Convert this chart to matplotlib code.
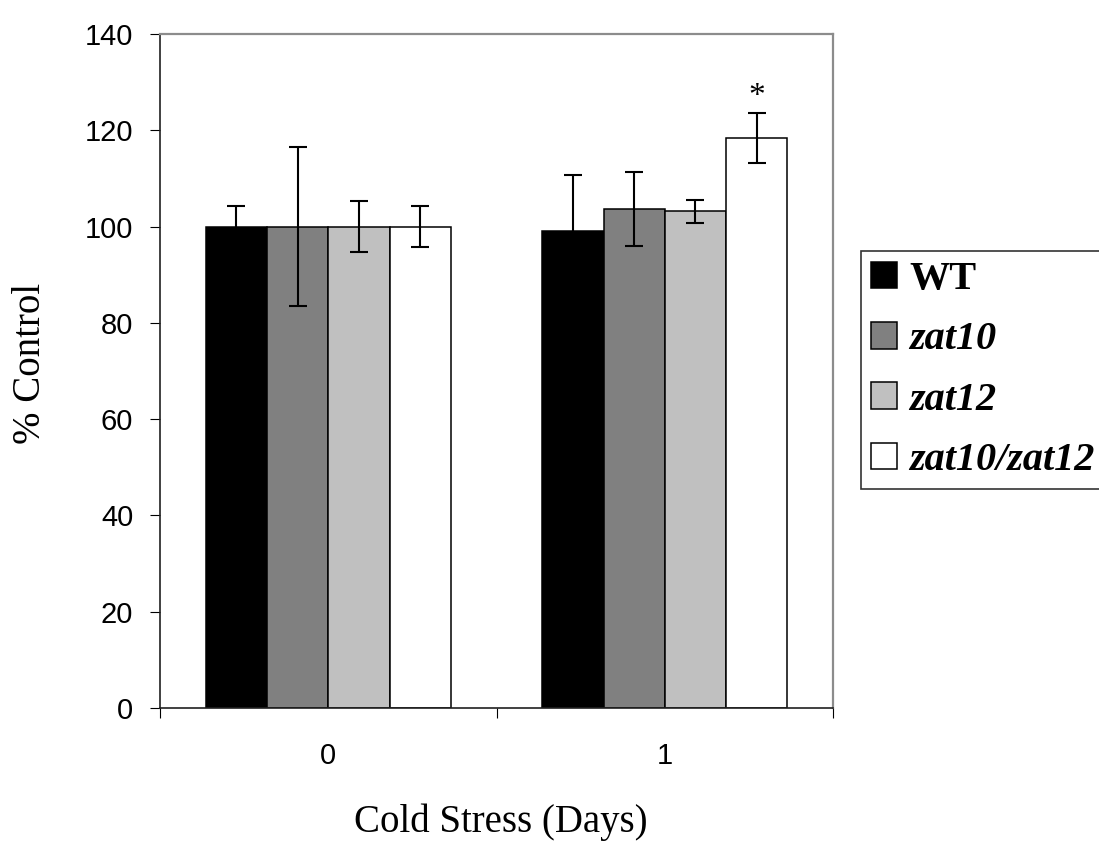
import numpy as np
import matplotlib
matplotlib.use('Agg')
import matplotlib.pyplot as plt

# data
days = ['0', '1']
lines = ['WT', 'zat10', 'zat12', 'zat10/zat12']
wt = [100.0, 99.0]
wt_err = [4.3, 11.7]
zat10 = [100.0, 103.7]
zat10_err = [16.6, 7.7]
zat12 = [100.0, 103.2]
zat12_err = [5.3, 2.4]
double = [100.0, 118.3]
double_err = [4.3, 5.2]

values = [wt, zat10, zat12, double]
errors = [wt_err, zat10_err, zat12_err, double_err]
colours = ['#000000', '#808080', '#c0c0c0', '#ffffff']

serif = 'Liberation Serif'
sans = 'Liberation Sans'

fig = plt.figure(figsize=(10.99, 8.43), dpi=100)
ax = fig.add_axes([0.1456, 0.1601, 0.6124, 0.7996])

x = np.arange(len(days))
width = 0.182
handles = []
for i in range(len(lines)):
    pos = x + (i - 1.5) * width
    b = ax.bar(pos, values[i], width, color=colours[i], edgecolor='black',
               linewidth=1.1, label=lines[i], zorder=2)
    ax.errorbar(pos, values[i], yerr=errors[i], fmt='none', ecolor='black',
                elinewidth=1.5, capsize=6.6, capthick=1.5, zorder=3)
    handles.append(b)

# significance mark over the double mutant on day 1
ax.text(x[1] + 1.5 * width, 127.0, '*', ha='center', va='center',
        fontsize=24, family=serif)

ax.set_xlim(-0.5, 1.5)
ax.set_ylim(0, 140)
ax.set_yticks(np.arange(0, 141, 20))

# ticks at group boundaries, labels at group centres
ax.set_xticks([-0.5, 0.5, 1.5])
ax.set_xticklabels([])
ax.set_xticks(x, minor=True)
ax.set_xticklabels(days, minor=True)
ax.tick_params(axis='x', which='major', direction='out', length=7.2, width=0.8)
ax.tick_params(axis='x', which='minor', length=0, pad=24.5, labelsize=21)
ax.tick_params(axis='y', direction='out', length=7.2, width=0.8, pad=12, labelsize=21)
for lab in ax.get_xticklabels(minor=True) + ax.get_yticklabels():
    lab.set_family(sans)

for side in ['left', 'bottom']:
    ax.spines[side].set_color('#202020')
    ax.spines[side].set_linewidth(1.2)
for side in ['top', 'right']:
    ax.spines[side].set_color('#8c8c8c')
    ax.spines[side].set_linewidth(1.6)

fig.text(30 / 1099, 1 - 363 / 843, '% Control', rotation=90, ha='center',
         va='center', fontsize=28, family=serif)
fig.text(501 / 1099, 1 - 832 / 843, 'Cold Stress (Days)', ha='center',
         va='baseline', fontsize=28, family=serif)

leg = fig.legend(handles=handles, labels=lines, loc='upper left',
                 bbox_to_anchor=(861 / 1099, 1 - 251 / 843),
                 bbox_transform=fig.transFigure, borderaxespad=0,
                 frameon=True, fancybox=False, edgecolor='black',
                 handlelength=0.64, handleheight=0.64, handletextpad=0.3,
                 labelspacing=0.58, borderpad=0.25,
                 prop={'family': serif, 'size': 29, 'weight': 'bold',
                       'style': 'italic'})
leg.get_frame().set_linewidth(1.2)
leg.get_texts()[0].set_style('normal')

fig.savefig('out.png', dpi=100)
